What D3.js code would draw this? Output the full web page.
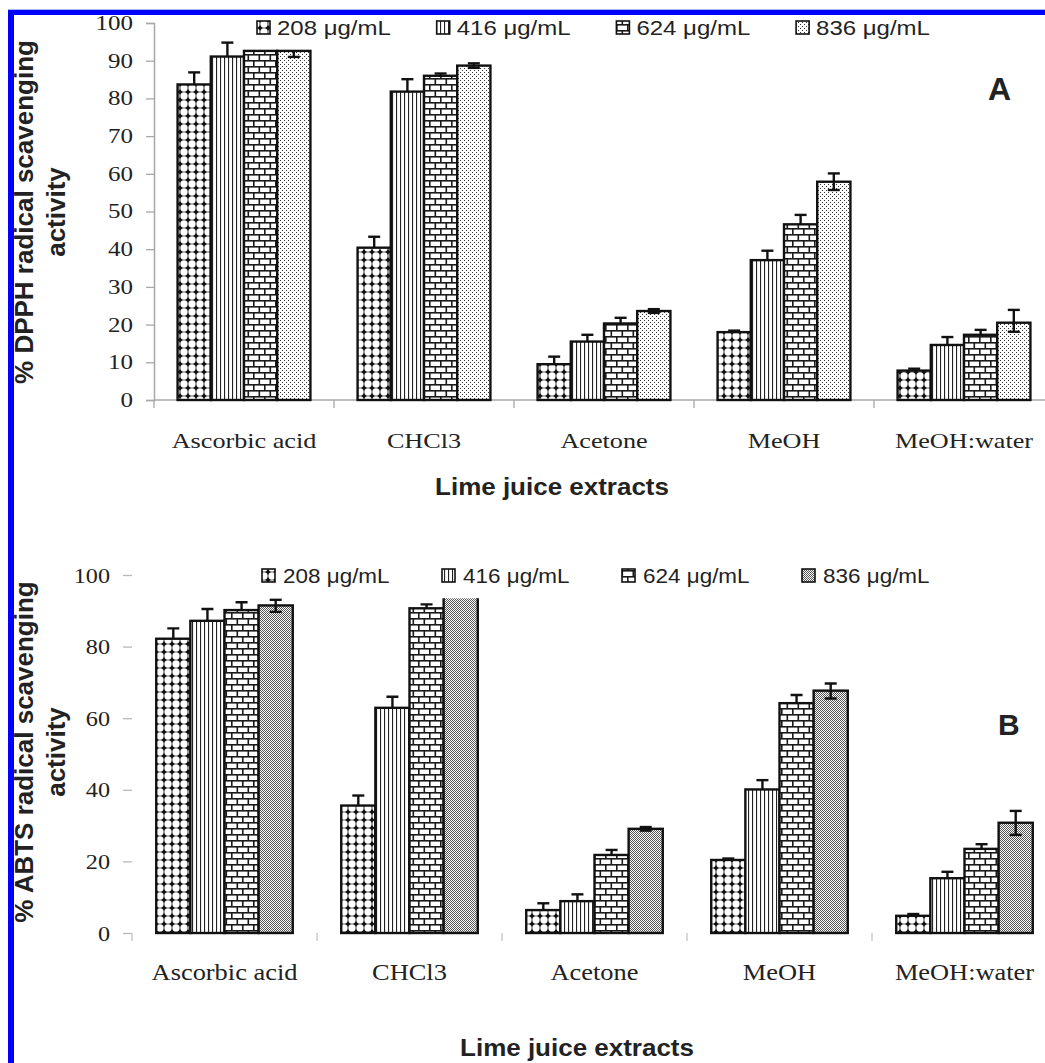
<!DOCTYPE html>
<html><head><meta charset="utf-8">
<script src="https://cdn.jsdelivr.net/npm/d3@7"></script>
<style>body{margin:0;background:#fff;} svg{display:block}</style>
</head><body><svg id="c" width="1045" height="1063"></svg>
<script>
// ---------- data ----------
const categories = ["Ascorbic acid", "CHCl3", "Acetone", "MeOH", "MeOH:water"];
const seriesLabels = ["208 μg/mL", "416 μg/mL", "624 μg/mL", "836 μg/mL"];

// Panel A: % DPPH radical scavenging activity
const dpph208 = [83.7, 40.4, 9.5, 18.0, 7.8];
const dpph416 = [91.1, 81.8, 15.5, 37.1, 14.6];
const dpph624 = [92.6, 86.0, 20.3, 46.6, 17.3];
const dpph836 = [92.6, 88.7, 23.6, 57.9, 20.5];
// upper error bars
const dpphErr208 = [3.2, 2.9, 2.0, 0.4, 0.5];
const dpphErr416 = [3.7, 3.3, 1.8, 2.5, 2.1];
const dpphErr624 = [0.0, 0.6, 1.5, 2.5, 1.3];
const dpphErr836 = [0.0, 0.6, 0.5, 2.2, 3.4];
// lower error bars (only shown for the 836 series)
const dpphErr836Low = [1.6, 0.6, 0.5, 2.2, 2.4];

// Panel B: % ABTS radical scavenging activity
const abts208 = [82.2, 35.6, 6.4, 20.4, 4.8];
const abts416 = [87.2, 62.9, 8.9, 40.1, 15.3];
const abts624 = [90.2, 90.7, 21.8, 64.2, 23.5];
const abts836 = [91.5, 97.0, 29.1, 67.7, 30.8];
const abtsErr208 = [2.9, 2.8, 1.9, 0.4, 0.5];
const abtsErr416 = [3.3, 3.1, 1.9, 2.6, 1.8];
const abtsErr624 = [2.2, 1.1, 1.4, 2.3, 1.3];
const abtsErr836 = [1.6, 1.5, 0.5, 2.0, 3.3];
const abtsErr836Low = [1.8, 1.5, 0.5, 2.2, 3.4];

const yTicksA = [0, 10, 20, 30, 40, 50, 60, 70, 80, 90, 100];
const yTicksB = [0, 20, 40, 60, 80, 100];
const plotMaxA = 100;    // visible top of plot area
const plotMaxB = 93.2;   // bars are cut above this level in panel B

// ---------- drawing ----------
const svg = d3.select("#c");
const defs = svg.append("defs");
const SANS = "'Liberation Sans', Arial, sans-serif";
const SERIF = "'Liberation Serif', 'Times New Roman', serif";

function pat(id, w, h) {
  return defs.append("pattern").attr("id", id).attr("patternUnits", "userSpaceOnUse")
    .attr("width", w).attr("height", h);
}
{ const p = pat("p208", 8, 8);
  p.append("rect").attr("width", 8).attr("height", 8).attr("fill", "#111");
  [[0,0],[8,0],[0,8],[8,8]].forEach(([cx,cy]) => p.append("circle").attr("cx", cx).attr("cy", cy).attr("r", 3.65).attr("fill", "#fff"));
}
{ const p = pat("p416", 4, 4);
  p.append("rect").attr("width", 4).attr("height", 4).attr("fill", "#fff");
  p.append("rect").attr("x", 0).attr("width", 1.1).attr("height", 4).attr("fill", "#222");
}
{ const p = pat("p624", 11, 12);
  p.append("rect").attr("width", 11).attr("height", 12).attr("fill", "#fff");
  p.append("rect").attr("x", 0).attr("y", 0).attr("width", 11).attr("height", 1.6).attr("fill", "#1a1a1a");
  p.append("rect").attr("x", 0).attr("y", 6).attr("width", 11).attr("height", 1.6).attr("fill", "#1a1a1a");
  p.append("rect").attr("x", 0).attr("y", 0).attr("width", 1.6).attr("height", 6).attr("fill", "#1a1a1a");
  p.append("rect").attr("x", 5.5).attr("y", 6).attr("width", 1.6).attr("height", 6).attr("fill", "#1a1a1a");
}
{ const p = pat("p836A", 4, 4);
  p.append("rect").attr("width", 4).attr("height", 4).attr("fill", "#fff");
  p.append("rect").attr("x", 0).attr("y", 0).attr("width", 1).attr("height", 1).attr("fill", "#333");
  p.append("rect").attr("x", 2).attr("y", 2).attr("width", 1).attr("height", 1).attr("fill", "#333");
}
{ const p = pat("p836B", 2, 2);
  p.append("rect").attr("width", 2).attr("height", 2).attr("fill", "#fff");
  p.append("rect").attr("x", 0).attr("y", 0).attr("width", 1).attr("height", 1).attr("fill", "#555");
  p.append("rect").attr("x", 1).attr("y", 1).attr("width", 1).attr("height", 1).attr("fill", "#555");
}

function stretchText(sel, x, y, sx) {
  sel.attr("x", 0).attr("y", 0).attr("transform", `translate(${x},${y}) scale(${sx},1)`);
}

function drawPanel(cfg) {
  const g = svg.append("g");
  const x0 = d3.scaleBand().domain(categories).range(cfg.xRange).padding(0);
  const x1 = d3.scaleBand().domain(seriesLabels).range([0, x0.bandwidth()]).paddingInner(0).paddingOuter(0.71);
  const y = d3.scaleLinear().domain([0, 100]).range(cfg.yRange);
  const fills = ["url(#p208)", "url(#p416)", "url(#p624)", `url(#${cfg.p836})`];

  const yAxis = d3.axisLeft(y).tickValues(cfg.yTicks).tickSizeOuter(0)
    .tickSize(cfg.tickSize).tickPadding(cfg.tickPad).tickFormat(d3.format("d"));
  const ag = g.append("g").attr("transform", `translate(${cfg.xRange[0]},0)`).call(yAxis);
  ag.select(".domain").attr("stroke", cfg.showAxisLine ? "#a8a8a8" : "none").attr("stroke-width", 1.5);
  ag.selectAll(".tick line").attr("stroke", cfg.showAxisLine ? "#a8a8a8" : "#b8b8b8").attr("stroke-width", 1.3);
  ag.selectAll(".tick text").attr("font-family", SERIF).attr("font-size", cfg.tickFont).attr("fill", "#222")
    .each(function () {
      const t = d3.select(this); const tx = +t.attr("x");
      t.attr("x", 0).attr("transform", `translate(${tx},0) scale(${cfg.tickSx},1)`);
    });

  if (cfg.showAxisLine) {
    g.append("line").attr("x1", cfg.xRange[0]).attr("x2", cfg.xRange[1])
      .attr("y1", y(0)).attr("y2", y(0)).attr("stroke", "#a8a8a8").attr("stroke-width", 1.5);
  }
  const bounds = categories.map(c => x0(c)).concat([x0(categories[categories.length - 1]) + x0.bandwidth()]);
  g.append("g").selectAll("line").data(bounds).join("line")
    .attr("x1", d => d).attr("x2", d => d).attr("y1", y(0)).attr("y2", y(0) + 8)
    .attr("stroke", cfg.showAxisLine ? "#a8a8a8" : "#c4c4c4").attr("stroke-width", 1.3);

  const clipId = "clip" + cfg.id;
  defs.append("clipPath").attr("id", clipId).append("rect")
    .attr("x", 0).attr("width", 1045).attr("y", y(cfg.plotMax) - cfg.clipPad).attr("height", 1063);
  const plot = g.append("g").attr("clip-path", `url(#${clipId})`);

  const rows = [];
  cfg.values.forEach((arr, si) => arr.forEach((v, ci) => rows.push({
    s: si, c: categories[ci], v, e: cfg.errors[si][ci], lo: si === 3 ? cfg.errLow[ci] : 0 })));

  plot.selectAll("rect.bar").data(rows).join("rect").attr("class", "bar")
    .attr("x", d => x0(d.c) + x1(seriesLabels[d.s]))
    .attr("width", x1.bandwidth())
    .attr("y", d => y(d.v)).attr("height", d => y(0) - y(d.v))
    .attr("fill", d => fills[d.s]).attr("stroke", "#111").attr("stroke-width", 2.4);

  const eg = plot.append("g").attr("stroke", "#111").attr("stroke-width", 2.4);
  rows.forEach(d => {
    const cx = x0(d.c) + x1(seriesLabels[d.s]) + x1.bandwidth() / 2;
    if (d.e > 0) {
      const top = y(d.v + d.e);
      eg.append("line").attr("x1", cx).attr("x2", cx).attr("y1", top).attr("y2", y(d.v));
      eg.append("line").attr("x1", cx - 6).attr("x2", cx + 6).attr("y1", top).attr("y2", top);
    }
    if (d.lo > 0) {
      const bot = y(d.v - d.lo);
      eg.append("line").attr("x1", cx).attr("x2", cx).attr("y1", y(d.v)).attr("y2", bot);
      eg.append("line").attr("x1", cx - 6).attr("x2", cx + 6).attr("y1", bot).attr("y2", bot);
    }
  });

  categories.forEach(c => {
    const t = g.append("text").text(c).attr("font-family", SERIF).attr("font-size", cfg.catFont)
      .attr("fill", "#222").attr("text-anchor", "middle");
    stretchText(t, x0(c) + x0.bandwidth() / 2, cfg.catY, cfg.catSx);
  });

  seriesLabels.forEach((s, i) => {
    const lx = cfg.legX + i * cfg.legStep;
    g.append("rect").attr("x", lx).attr("y", cfg.legY - 14).attr("width", 13).attr("height", 13)
      .attr("fill", fills[i]).attr("stroke", "#111").attr("stroke-width", 1.6);
    const t = g.append("text").text(s).attr("font-family", SANS).attr("font-size", cfg.legFont).attr("fill", "#222");
    stretchText(t, lx + cfg.legGap, cfg.legY, cfg.legSx);
  });

  cfg.yTitle.forEach((line, i) => {
    g.append("text").text(line).attr("font-family", SANS).attr("font-weight", "bold").attr("font-size", 26)
      .attr("fill", "#222").attr("text-anchor", "middle")
      .attr("transform", `translate(${i === 0 ? 33 : 65},${cfg.yTitleY}) rotate(-90)`);
  });

  const xt = g.append("text").text("Lime juice extracts").attr("font-family", SANS).attr("font-weight", "bold")
    .attr("font-size", 23).attr("fill", "#222").attr("text-anchor", "middle");
  stretchText(xt, cfg.xTitleX, cfg.xTitleY, 1.13);

  g.append("text").text(cfg.id).attr("x", cfg.letterX).attr("y", cfg.letterY)
    .attr("font-family", SANS).attr("font-weight", "bold").attr("font-size", cfg.letterFont).attr("fill", "#222");
}

drawPanel({
  id: "A",
  values: [dpph208, dpph416, dpph624, dpph836],
  errors: [dpphErr208, dpphErr416, dpphErr624, dpphErr836], errLow: dpphErr836Low,
  xRange: [154, 1054], yRange: [400, 23], yTicks: yTicksA,
  plotMax: plotMaxA, clipPad: 20, showAxisLine: true,
  tickSize: 8, tickPad: 13, tickFont: 20, tickSx: 1.25,
  catFont: 22, catSx: 1.19, catY: 448,
  legX: 257, legStep: 179.7, legY: 35, legGap: 20, legFont: 20, legSx: 1.2,
  p836: "p836A",
  yTitle: ["% DPPH radical scavenging", "activity"], yTitleY: 212,
  xTitleX: 552, xTitleY: 495,
  letterX: 988, letterY: 100, letterFont: 32
});

drawPanel({
  id: "B",
  values: [abts208, abts416, abts624, abts836],
  errors: [abtsErr208, abtsErr416, abtsErr624, abtsErr836], errLow: abtsErr836Low,
  xRange: [132, 1057], yRange: [933, 575], yTicks: yTicksB,
  plotMax: plotMaxB, clipPad: 1, showAxisLine: false,
  tickSize: 9, tickPad: 13, tickFont: 22, tickSx: 1.1,
  catFont: 24, catSx: 1.1, catY: 980,
  legX: 262, legStep: 180, legY: 583, legGap: 21, legFont: 21, legSx: 1.07,
  p836: "p836B",
  yTitle: ["% ABTS radical scavenging", "activity"], yTitleY: 752,
  xTitleX: 577, xTitleY: 1056,
  letterX: 998, letterY: 735, letterFont: 30
});

svg.append("rect").attr("x", 8).attr("y", 9).attr("width", 1037).attr("height", 1).attr("fill", "#a9b4ff");
svg.append("rect").attr("x", 8).attr("y", 10).attr("width", 1037).attr("height", 5).attr("fill", "#0000ff");
svg.append("rect").attr("x", 8).attr("y", 10).attr("width", 6).attr("height", 1053).attr("fill", "#0000ff");
</script>
</body></html>
